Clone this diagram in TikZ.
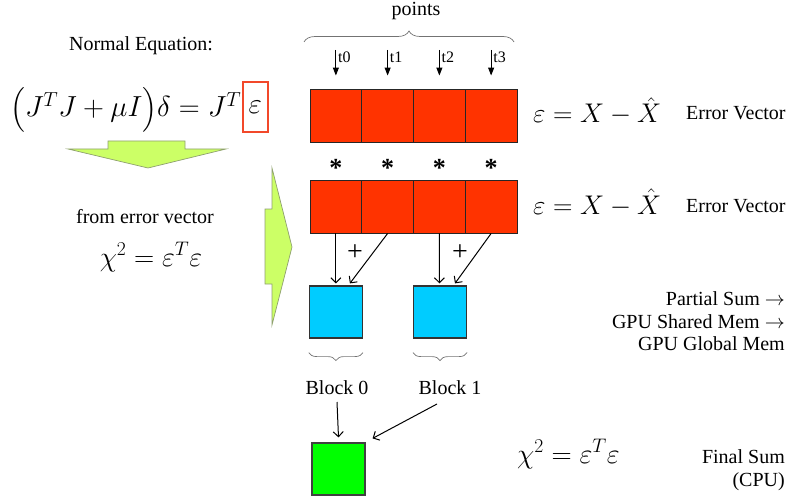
\RequirePackage{fix-cm}
\documentclass[tikz,border=0pt]{standalone}
\usepackage{amsmath}
\usepackage{fontspec}
\setmainfont{Liberation Serif}
\usetikzlibrary{arrows.meta,decorations.pathreplacing,calc}
\definecolor{cred}{HTML}{FF3300}
\definecolor{cblue}{HTML}{00CCFF}
\definecolor{cgreen}{HTML}{00FF00}
\definecolor{lgreen}{HTML}{CCFF66}
\definecolor{boxred}{HTML}{F2482A}
\definecolor{arrowline}{HTML}{8FA070}
\begin{document}
\begin{tikzpicture}[x=1pt,y=-1pt,
  txt/.style={inner sep=0pt,font=\fontsize{20}{24}\selectfont},
  small/.style={inner sep=0pt,font=\fontsize{16}{19}\selectfont},
  meq/.style={inner sep=0pt,font=\fontsize{27}{32}\selectfont},
  chieq/.style={inner sep=0pt,font=\fontsize{28}{33}\selectfont},
  bigeq/.style={inner sep=0pt,font=\fontsize{29}{35}\selectfont},
  cell/.style={draw=black!85,line width=0.9pt,fill=cred,minimum width=51.75pt,minimum height=53pt,inner sep=0pt},
  blk/.style={draw=black!80,line width=1.2pt,minimum width=53pt,minimum height=52pt,inner sep=0pt},
  tarr/.style={-{Triangle[length=8pt,width=6pt]},line width=1pt},
  barb/.style={-{Straight Barb[length=5pt,width=10pt]},line width=1pt},
  brc/.style={draw=black!55,line width=0.7pt,decorate},
  fat/.style={fill=lgreen,draw=arrowline,line width=0.7pt}]
\useasboundingbox (0,0) rectangle (790,500);

% left part
\node[txt,anchor=base] (ne) at (141,51) {Normal Equation:};
\node[bigeq,anchor=base west] (eq) at (10,117) {$\bigl(J^{T}J+\mu I\bigr)\delta = J^{T}$};
\node[bigeq,draw=boxred,line width=1.8pt,minimum width=25pt,minimum height=50pt,anchor=center] (epsb) at ([xshift=14pt]eq.east |- 0,107) {$\varepsilon$};
\draw[fat] (108,141) -- (185,141) -- (185,149) -- (226,149) -- (148,168) -- (68,149) -- (108,149) -- cycle;
\node[txt,anchor=base] (fev) at (145,223) {from error vector};
\node[chieq,anchor=base] (chi1) at (151,266) {$\chi^{2}=\varepsilon^{T}\varepsilon$};
\draw[fat] (265,209) -- (272,209) -- (272,168) -- (292,247) -- (272,325) -- (272,284) -- (265,284) -- cycle;

% points brace and threads
\node[txt,anchor=base] (pts) at (416,16) {points};
\draw[brc,decoration={brace,amplitude=11pt}] (304,42) -- (514,42);

% rows
\foreach \i/\x in {0/335.875,1/387.625,2/439.375,3/491.125}{
  \node[cell] (ra\i) at (\x,115.5) {};
  \node[cell] (rb\i) at (\x,206.5) {};
  \coordinate (ts\i) at (\x,50);
  \draw[tarr] (ts\i) -- ([yshift=13pt]ra\i.north);
  \node[small,anchor=base west] (tl\i) at ([xshift=2pt,yshift=-13pt]ts\i) {t\i};
  \node[inner sep=0pt,font=\fontsize{26}{30}\selectfont\bfseries,anchor=base] (ast\i) at (\x,177) {*};
}

\node[meq,anchor=base west] (ev1) at (533,123) {$\varepsilon = X - \hat{X}$};
\node[txt,anchor=base west] (evt1) at (686,120) {Error Vector};
\node[meq,anchor=base west] (ev2) at (533,214) {$\varepsilon = X - \hat{X}$};
\node[txt,anchor=base west] (evt2) at (686,212) {Error Vector};

% partial sums
\node[blk,fill=cblue] (b0) at (335.875,312) {};
\node[blk,fill=cblue] (b1) at (440,312) {};
\draw[barb] (rb0.south) -- ([yshift=2pt]b0.north);
\draw[barb] (rb1.south) -- ([xshift=14pt,yshift=2pt]b0.north);
\draw[barb] (rb2.south) -- ([xshift=-0.6pt,yshift=2pt]b1.north);
\draw[barb] (rb3.south) -- ([xshift=15pt,yshift=2pt]b1.north);
\node[inner sep=0pt,font=\fontsize{28}{32}\selectfont] (p0) at (355,253) {+};
\node[inner sep=0pt,font=\fontsize{28}{32}\selectfont] (p1) at (460,253) {+};

\draw[brc,decoration={brace,amplitude=8pt}] ([yshift=-14pt]b0.south east) -- ([yshift=-14pt]b0.south west);
\draw[brc,decoration={brace,amplitude=8pt}] ([yshift=-14pt]b1.south east) -- ([yshift=-14pt]b1.south west);

\node[txt,anchor=base] (bl0) at (337,394) {Block 0};
\node[txt,anchor=base] (bl1) at (450,394) {Block 1};

\node[blk,fill=cgreen,draw=black!75] (g) at (338.5,469) {};
\draw[barb] ([yshift=-8pt]bl0.base) -- ([yshift=5pt]g.north);
\draw[barb] ([xshift=-13pt,yshift=-10pt]bl1.base) -- ([xshift=7pt,yshift=4pt]g.north east);

% right texts
\node[txt,anchor=base east] (ps1) at (785,305) {Partial Sum $\rightarrow$};
\node[txt,anchor=base east] (ps2) at (785,328) {GPU Shared Mem $\rightarrow$};
\node[txt,anchor=base east] (ps3) at (785,350) {GPU Global Mem};
\node[chieq,anchor=base west] (chi2) at (517,463) {$\chi^{2}=\varepsilon^{T}\varepsilon$};
\node[txt,anchor=base east] (fs1) at (785,463) {Final Sum};
\node[txt,anchor=base east] (fs2) at (785,486) {(CPU)};
\end{tikzpicture}
\end{document}
